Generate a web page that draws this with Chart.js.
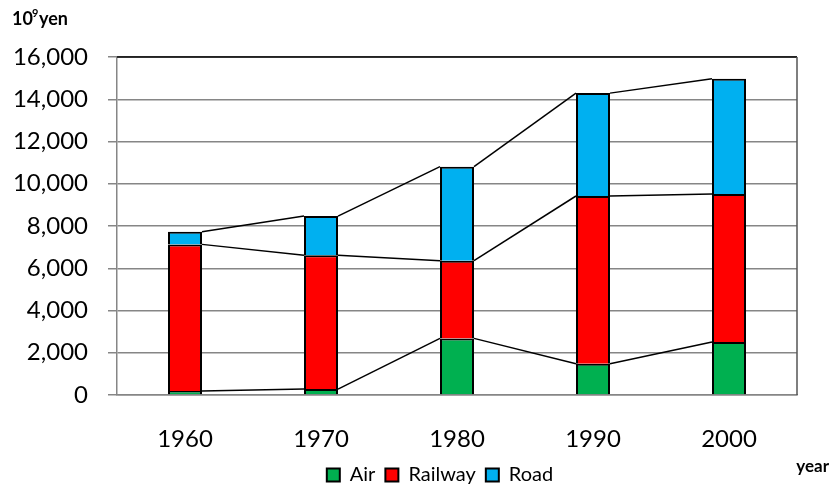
<!DOCTYPE html>
<html>
<head>
  <meta charset="utf-8">
  <title>Transport investment</title>
  <script src="https://cdn.jsdelivr.net/npm/chart.js"></script>
  <style>
    html, body { margin: 0; padding: 0; background: #fff; }
    #wrap { width: 831px; height: 489px; position: relative; }
  </style>
</head>
<body>
  <div id="wrap"><canvas id="grafico"></canvas></div>
  <script>
    // anni e valori (10^9 yen)
    var anni = ["1960", "1970", "1980", "1990", "2000"];
    var aereo = [190, 280, 2680, 1480, 2510];
    var ferrovia = [6940, 6330, 3680, 7940, 7000];
    var strada = [600, 1860, 4450, 4870, 5460];

    var FONT = "Lato, 'Open Sans', sans-serif";

    // linee che collegano le cime delle barre (come in Excel)
    var lineeSerie = {
      id: 'lineeSerie',
      afterLayout: function (chart) {
        // sposto un po' la legenda
        if (chart.legend) {
          chart.legend.left -= 17;
          chart.legend.right -= 17;
          chart.legend.top += 6;
          chart.legend.bottom += 6;
        }
      },
      afterDatasetsDraw: function (chart) {
        var ctx = chart.ctx;
        ctx.save();
        ctx.strokeStyle = '#000';
        ctx.lineWidth = 1.5;
        chart.data.datasets.forEach(function (ds, d) {
          var meta = chart.getDatasetMeta(d);
          for (var i = 0; i < meta.data.length - 1; i++) {
            var a = meta.data[i], b = meta.data[i + 1];
            ctx.beginPath();
            ctx.moveTo(a.x + a.width / 2, a.y);
            ctx.lineTo(b.x - b.width / 2, b.y);
            ctx.stroke();
          }
        });
        // bordo superiore e destro dell'area del grafico
        var area = chart.chartArea;
        ctx.beginPath();
        ctx.strokeStyle = '#000';
        ctx.moveTo(area.left, area.top);
        ctx.lineTo(area.right, area.top);
        ctx.stroke();
        ctx.beginPath();
        ctx.strokeStyle = '#555';
        ctx.moveTo(area.right, area.top);
        ctx.lineTo(area.right, area.bottom);
        ctx.stroke();
        // unità di misura
        ctx.fillStyle = '#000';
        ctx.textBaseline = 'alphabetic';
        ctx.textAlign = 'left';
        ctx.font = "bold 18px " + FONT;
        ctx.fillText('10', 12, 25);
        ctx.font = "bold 11px " + FONT;
        ctx.fillText('9', 32, 17);
        ctx.font = "bold 18px " + FONT;
        ctx.fillText('yen', 39, 25);
        ctx.font = "bold 17px " + FONT;
        ctx.textAlign = 'right';
        ctx.fillText('year', 829, 472);
        ctx.restore();
      }
    };

    function serie(nome, valori, colore) {
      return {
        label: nome,
        data: valori,
        backgroundColor: colore,
        borderColor: '#000',
        borderWidth: 2,
        borderSkipped: 'start',
        barPercentage: 0.25,
        categoryPercentage: 1
      };
    }

    new Chart(document.getElementById('grafico'), {
      type: 'bar',
      data: {
        labels: anni,
        datasets: [
          serie('Air', aereo, '#00B050'),
          serie('Railway', ferrovia, '#FF0000'),
          serie('Road', strada, '#00B0F0')
        ]
      },
      options: {
        responsive: true,
        maintainAspectRatio: false,
        animation: false,
        layout: { padding: { top: 57, right: 34, bottom: 0, left: 0 } },
        plugins: {
          tooltip: { enabled: false },
          legend: {
            position: 'bottom',
            fullSize: false,
            labels: {
              font: { family: FONT, size: 20 },
              color: '#000',
              boxWidth: 13,
              boxHeight: 13,
              padding: 10,
              useBorderRadius: false
            }
          }
        },
        scales: {
          x: {
            stacked: true,
            grid: { display: false, drawTicks: false },
            border: { color: '#868686', width: 1.5 },
            ticks: { font: { family: FONT, size: 24 }, color: '#000', padding: 30 },
            afterFit: function (s) { s.height = 54; }
          },
          y: {
            stacked: true,
            min: 0,
            max: 16000,
            grid: { color: '#868686', lineWidth: 1.5, tickLength: 9 },
            border: { color: '#868686', width: 1.5 },
            ticks: {
              stepSize: 2000,
              font: { family: FONT, size: 24 },
              color: '#000',
              padding: 20,
              callback: function (v) { return v.toLocaleString('en-US'); }
            },
            afterFit: function (s) { s.width = 117; }
          }
        }
      },
      plugins: [lineeSerie]
    });
  </script>
</body>
</html>
